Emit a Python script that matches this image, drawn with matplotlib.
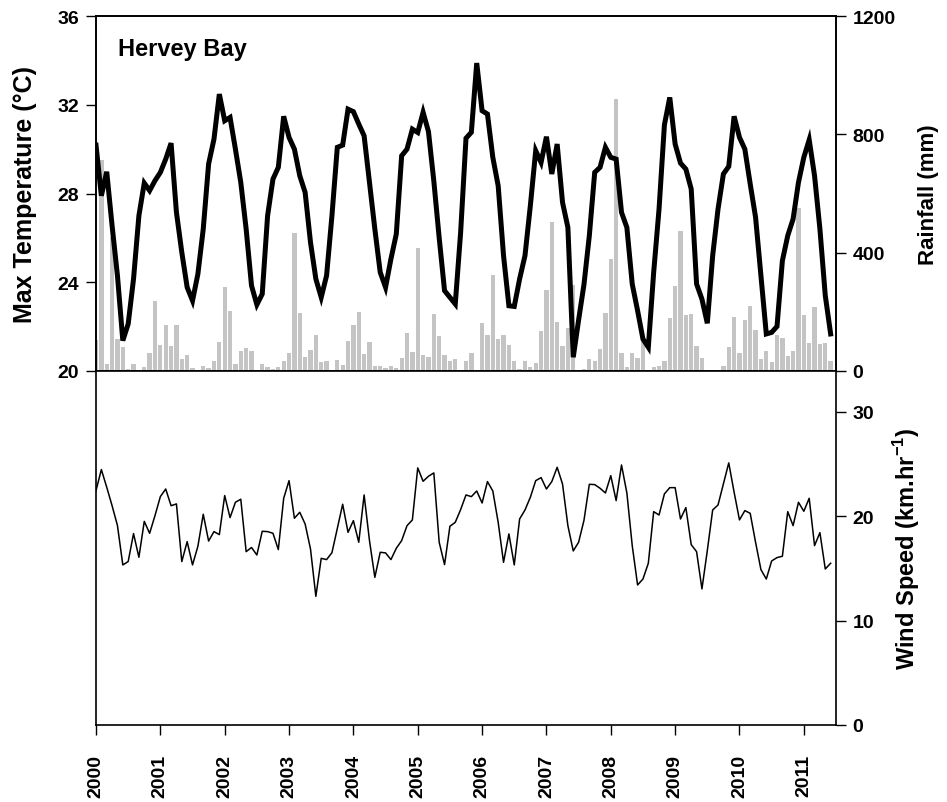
import numpy as np
import matplotlib
matplotlib.use("Agg")
import matplotlib.pyplot as plt

plt.rcParams['font.family'] = ['Liberation Sans', 'DejaVu Sans']
plt.rcParams['font.weight'] = 'bold'
plt.rcParams['mathtext.fontset'] = 'custom'
plt.rcParams['mathtext.rm'] = 'Liberation Sans:bold'
plt.rcParams['mathtext.bf'] = 'Liberation Sans:bold'

# Monthly data, Jan 2000 - Jun 2011
max_temp = [30.18, 27.90, 28.98, 26.55, 24.3, 21.37, 22.12, 24.15, 27.0, 28.47, 28.13, 28.58,
            28.95, 29.55, 30.27, 27.15, 25.35, 23.77, 23.17, 24.37, 26.4, 29.33, 30.45, 32.48,
            31.28, 31.43, 30.0, 28.5, 26.4, 23.85, 22.99, 23.47, 27.0, 28.65, 29.18, 31.48,
            30.53, 30.0, 28.8, 28.05, 25.8, 24.15, 23.32, 24.3, 27.0, 30.08, 30.18, 31.8,
            31.69, 31.13, 30.6, 28.5, 26.4, 24.45, 23.77, 25.05, 26.17, 29.7, 30.0, 30.9,
            30.75, 31.66, 30.79, 28.56, 26.0, 23.62, 23.32, 23.02, 26.25, 30.49, 30.76, 33.88,
            31.73, 31.58, 29.63, 28.35, 25.2, 22.94, 22.91, 24.15, 25.2, 27.45, 29.93, 29.4,
            30.56, 28.88, 30.23, 27.6, 26.47, 20.62, 22.3, 23.9, 26.1, 28.95, 29.18, 30.08,
            29.63, 29.55, 27.15, 26.47, 23.92, 22.72, 21.44, 21.07, 24.45, 27.3, 31.09, 32.33,
            30.23, 29.37, 29.1, 28.2, 23.92, 23.24, 22.15, 25.2, 27.3, 28.88, 29.22, 31.48,
            30.53, 30.0, 28.43, 26.93, 24.3, 21.67, 21.74, 22.01, 24.97, 26.1, 26.85, 28.5,
            29.63, 30.42, 28.8, 26.4, 23.4, 21.67]

rainfall = [106, 713, 24, 453, 108, 80, 7, 24, 0, 12, 61, 235,
            89, 157, 84, 157, 41, 54, 9, 0, 16, 9, 34, 97,
            284, 202, 24, 66, 78, 69, 0, 24, 12, 7, 12, 33,
            61, 468, 195, 49, 72, 122, 29, 34, 0, 37, 20, 102,
            156, 199, 58, 97, 16, 18, 9, 18, 9, 43, 128, 63,
            416, 54, 46, 191, 120, 54, 35, 41, 0, 35, 61, 0,
            162, 122, 325, 108, 122, 88, 34, 7, 35, 12, 27, 136,
            275, 504, 165, 86, 146, 292, 0, 7, 41, 33, 75, 197,
            380, 919, 61, 12, 61, 43, 101, 0, 12, 16, 35, 179,
            289, 472, 190, 193, 84, 43, 0, 0, 0, 16, 80, 182,
            61, 173, 220, 137, 41, 67, 32, 122, 112, 52, 67, 551,
            188, 95, 216, 92, 95, 35]

wind_speed = [22.45, 24.46, 22.77, 21.0, 19.1, 15.33, 15.65, 18.33, 16.06, 19.5, 18.36, 20.05,
              21.87, 22.6, 21.0, 21.17, 15.65, 17.56, 15.33, 17.11, 20.18, 17.62, 18.52, 18.23,
              21.97, 19.86, 21.33, 21.62, 16.6, 17.0, 16.28, 18.55, 18.52, 18.36, 16.8, 21.71,
              23.4, 19.8, 20.37, 19.25, 16.86, 12.32, 15.96, 15.84, 16.5, 18.84, 21.14, 18.45,
              19.57, 17.5, 22.03, 17.66, 14.14, 16.54, 16.48, 15.84, 16.92, 17.66, 19.09, 19.64,
              24.62, 23.34, 23.82, 24.14, 17.5, 15.36, 19.03, 19.41, 20.63, 22.03, 21.87, 22.41,
              21.26, 23.31, 22.41, 19.41, 15.58, 18.3, 15.33, 19.73, 20.59, 21.81, 23.4, 23.69,
              22.6, 23.31, 24.68, 23.08, 19.09, 16.67, 17.5, 19.6, 23.05, 23.02, 22.67, 22.22,
              23.88, 21.49, 24.9, 22.22, 17.18, 13.41, 13.98, 15.49, 20.43, 20.11, 22.13, 22.73,
              22.73, 19.73, 20.82, 17.27, 16.6, 13.03, 16.7, 20.59, 21.07, 23.08, 25.1, 22.29,
              19.64, 20.53, 20.27, 17.5, 14.88, 13.98, 15.71, 16.03, 16.16, 20.43, 19.09, 21.33,
              20.47, 21.71, 17.18, 18.42, 14.94, 15.49]

start_year = 2000
month_index = np.arange(len(max_temp))
dates = start_year + month_index / 12.0

year_ticks = list(range(2000, 2012))
temp_ticks = [20, 24, 28, 32, 36]
rain_ticks = [0, 400, 800, 1200]
wind_ticks = [0, 10, 20, 30]

fig = plt.figure(figsize=(9.47, 8.03), dpi=100)
L, W = 96 / 947, 740 / 947
top_b, top_h = 1 - 372 / 803, 355 / 803
bot_b, bot_h = 1 - 726 / 803, 354 / 803

tick_kw = dict(direction='out', length=7, width=1.0, labelsize=14, pad=5)

# --- top panel ---
ax_rain = fig.add_axes([L, top_b, W, top_h])
ax_temp = ax_rain.twinx()

ax_rain.bar(dates, rainfall, width=0.8 / 12, color='#c4c4c4', edgecolor='none', align='center')
ax_rain.set_ylim(0, 1200)
ax_rain.set_xlim(2000, 2011.5)
ax_rain.set_xticks([])
ax_rain.yaxis.tick_right()
ax_rain.yaxis.set_label_position('right')
ax_rain.set_yticks(rain_ticks)
ax_rain.set_ylabel('Rainfall (mm)', fontsize=16, fontweight='bold', labelpad=16)
ax_rain.tick_params(axis='y', left=False, labelleft=False, right=True, labelright=True, **tick_kw)

ax_temp.plot(dates, max_temp, color='black', lw=3.6, solid_joinstyle='miter')
ax_temp.set_ylim(20, 36)
ax_temp.set_xlim(2000, 2011.5)
ax_temp.yaxis.tick_left()
ax_temp.yaxis.set_label_position('left')
ax_temp.set_yticks(temp_ticks)
ax_temp.set_ylabel('Max Temperature (°C)', fontsize=18, fontweight='bold', labelpad=15)
ax_temp.tick_params(axis='y', left=True, labelleft=True, right=False, labelright=False, **tick_kw)
ax_temp.text(0.03, 0.94, 'Hervey Bay', transform=ax_temp.transAxes, fontsize=17,
             fontweight='bold', va='top', ha='left')

# --- bottom panel ---
ax_wind = fig.add_axes([L, bot_b, W, bot_h])
ax_wind.plot(dates, wind_speed, color='black', lw=1.1)
ax_wind.set_xlim(2000, 2011.5)
ax_wind.set_ylim(0, 33.9)
ax_wind.set_yticks(wind_ticks)
ax_wind.yaxis.tick_right()
ax_wind.yaxis.set_label_position('right')
ax_wind.set_ylabel(r'Wind Speed (km.hr$^{\mathbf{-1}}$)', fontsize=17, fontweight='bold', labelpad=12)
ax_wind.tick_params(axis='y', **tick_kw)
ax_wind.set_xticks(year_ticks)
ax_wind.set_xticklabels([str(y) for y in year_ticks], rotation=90)
ax_wind.tick_params(axis='x', direction='out', length=7, width=1.0, labelsize=14, pad=14)

for ax in (ax_rain, ax_temp, ax_wind):
    for s in ax.spines.values():
        s.set_linewidth(1.2)
    for lab in ax.get_yticklabels() + ax.get_xticklabels():
        lab.set_fontweight('bold')

fig.savefig('out.png', dpi=100)
